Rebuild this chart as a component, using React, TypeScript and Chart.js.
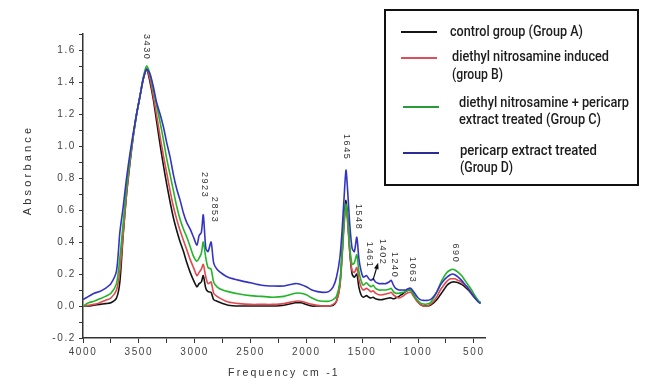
import React, { useEffect, useRef } from 'react';
import { Chart, registerables } from 'chart.js';

Chart.register(...registerables);

const frequencies = [
  4000, 3950, 3900, 3850, 3800, 3750, 3700, 3670, 3640, 3610, 3580, 3550, 3520, 3490, 3460, 3430,
  3400, 3370, 3340, 3310, 3280, 3250, 3220, 3190, 3160, 3130, 3100, 3070, 3040, 3010, 2980, 2960,
  2940, 2923, 2900, 2880, 2853, 2830, 2800, 2750, 2700, 2600, 2500, 2400, 2300, 2200, 2100, 2050,
  2000, 1950, 1900, 1850, 1800, 1760, 1730, 1700, 1680, 1660, 1645, 1630, 1610, 1590, 1570, 1548,
  1530, 1510, 1490, 1461, 1440, 1420, 1402, 1380, 1350, 1320, 1290, 1260, 1240, 1220, 1200, 1170,
  1140, 1110, 1085, 1063, 1040, 1010, 980, 950, 920, 890, 860, 830, 800, 770, 740, 710,
  690, 670, 640, 610, 580, 550, 520, 490, 460, 440,
];

const groupA = [
  0.0, 0.0, 0.005, 0.01, 0.015, 0.02, 0.05, 0.15, 0.45, 0.7, 0.89, 1.06, 1.2, 1.31, 1.42, 1.48,
  1.4, 1.29, 1.15, 1.01, 0.88, 0.76, 0.65, 0.55, 0.47, 0.4, 0.34, 0.27, 0.21, 0.16, 0.12, 0.14,
  0.15, 0.19, 0.11, 0.09, 0.085, 0.04, 0.03, 0.015, 0.005, 0.0, 0.0, 0.0, 0.0, 0.005, 0.02, 0.02,
  0.01, 0.0, 0.0, 0.0, 0.0, 0.005, 0.03, 0.13, 0.33, 0.56, 0.66, 0.55, 0.33, 0.2, 0.18, 0.2,
  0.12, 0.07, 0.055, 0.065, 0.055, 0.05, 0.055, 0.045, 0.04, 0.04, 0.045, 0.05, 0.05, 0.045, 0.05, 0.06,
  0.075, 0.09, 0.1, 0.1, 0.07, 0.035, 0.01, 0.0, 0.0, 0.005, 0.02, 0.04, 0.07, 0.1, 0.13, 0.145,
  0.15, 0.15, 0.145, 0.135, 0.12, 0.1, 0.075, 0.05, 0.03, 0.02,
];

const groupB = [
  0.0, 0.005, 0.01, 0.02, 0.035, 0.05, 0.1, 0.22, 0.45, 0.7, 0.9, 1.06, 1.2, 1.31, 1.42, 1.48,
  1.42, 1.31, 1.19, 1.06, 0.94, 0.83, 0.72, 0.62, 0.54, 0.47, 0.41, 0.35, 0.29, 0.24, 0.19, 0.21,
  0.23, 0.26, 0.18, 0.14, 0.15, 0.08, 0.06, 0.04, 0.025, 0.015, 0.01, 0.01, 0.01, 0.015, 0.03, 0.03,
  0.02, 0.01, 0.005, 0.0, 0.0, 0.01, 0.03, 0.12, 0.3, 0.52, 0.62, 0.52, 0.33, 0.22, 0.21, 0.24,
  0.17, 0.12, 0.1, 0.11, 0.1, 0.09, 0.095, 0.08, 0.07, 0.07, 0.075, 0.08, 0.085, 0.07, 0.06, 0.05,
  0.06, 0.075, 0.085, 0.085, 0.06, 0.03, 0.01, 0.0, 0.0, 0.01, 0.03, 0.06, 0.1, 0.13, 0.155, 0.17,
  0.17, 0.17, 0.16, 0.15, 0.13, 0.11, 0.08, 0.055, 0.03, 0.02,
];

const groupC = [
  0.0, 0.02, 0.03, 0.045, 0.06, 0.08, 0.14, 0.3, 0.52, 0.74, 0.92, 1.07, 1.2, 1.31, 1.43, 1.5,
  1.45, 1.35, 1.25, 1.15, 1.04, 0.92, 0.82, 0.72, 0.62, 0.54, 0.48, 0.43, 0.37, 0.31, 0.28, 0.3,
  0.33, 0.4, 0.3, 0.24, 0.23, 0.15, 0.12, 0.1, 0.09, 0.075, 0.065, 0.06, 0.055, 0.06, 0.08, 0.08,
  0.07, 0.05, 0.035, 0.03, 0.03, 0.04, 0.06, 0.15, 0.32, 0.55, 0.64, 0.55, 0.36, 0.26, 0.27, 0.32,
  0.22, 0.16, 0.13, 0.145, 0.13, 0.12, 0.13, 0.11, 0.1, 0.1, 0.1, 0.105, 0.11, 0.09, 0.08, 0.08,
  0.085, 0.09, 0.1, 0.1, 0.07, 0.04, 0.02, 0.012, 0.012, 0.02, 0.05, 0.09, 0.14, 0.18, 0.21, 0.225,
  0.23, 0.225, 0.21, 0.19, 0.16, 0.13, 0.1, 0.065, 0.035, 0.02,
];

const groupD = [
  0.04, 0.06, 0.08, 0.09, 0.11, 0.14, 0.22, 0.46, 0.62, 0.8, 0.95, 1.08, 1.2, 1.31, 1.42, 1.48,
  1.45, 1.37, 1.27, 1.2, 1.12, 1.02, 0.93, 0.82, 0.73, 0.66, 0.58, 0.52, 0.48, 0.43, 0.38, 0.44,
  0.46, 0.57, 0.36, 0.34, 0.4, 0.27, 0.23, 0.2, 0.18, 0.16, 0.145, 0.13, 0.125, 0.125, 0.14, 0.135,
  0.12, 0.1, 0.09, 0.085, 0.09, 0.12, 0.18, 0.3, 0.47, 0.7, 0.85, 0.72, 0.5, 0.36, 0.34, 0.43,
  0.3, 0.22, 0.18, 0.19, 0.17, 0.16, 0.17, 0.15, 0.14, 0.14, 0.14, 0.15, 0.16, 0.13, 0.11, 0.1,
  0.1, 0.1, 0.11, 0.11, 0.09, 0.06, 0.04, 0.035, 0.035, 0.04, 0.06, 0.09, 0.13, 0.16, 0.18, 0.195,
  0.2, 0.195, 0.18, 0.16, 0.135, 0.11, 0.08, 0.05, 0.025, 0.015,
];

const seriesNames = [
  ['control group (Group A)'],
  ['diethyl nitrosamine induced', '(group B)'],
  ['diethyl nitrosamine + pericarp', 'extract treated (Group C)'],
  ['pericarp extract treated', '(Group D)'],
];
const seriesValues = [groupA, groupB, groupC, groupD];
const seriesColors = ['#141414', '#e04a4e', '#22b52a', '#3434c4'];
const legendSampleColors = ['#141414', '#d9505a', '#2a9a3a', '#2c2c94'];

const peakLabels = ['3430', '2923', '2853', '1645', '1548', '1461', '1402', '1240', '1063', '690'];
const peakLabelFreq = [3430, 2910, 2823, 1637, 1529, 1431, 1314, 1211, 1050, 665];
const peakLabelBase = [1.535, 0.673, 0.517, 0.91, 0.473, 0.236, 0.254, 0.173, 0.142, 0.267];

// x-axis tick marks (every 250) and labels (every 500)
const xTickValues = [
  4000, 3750, 3500, 3250, 3000, 2750, 2500, 2250, 2000, 1750, 1500, 1250, 1000, 750, 500,
];
const xTickLabelValues = [4000, 3500, 3000, 2500, 2000, 1500, 1000, 500];

const yTickLabels = (v: number) => {
  const r = Math.round(v * 10);
  if (r % 2 !== 0) return '';
  return (r / 10).toFixed(1);
};
const xTickLabels = (v: number) => (xTickLabelValues.includes(Math.round(v)) ? String(Math.round(v)) : '');

const decor = {
  id: 'decor',
  beforeLayout(chart: any) {
    chart.ctx.letterSpacing = '1.6px';
  },
  beforeDraw(chart: any) {
    chart.ctx.letterSpacing = '1.6px';
  },
  afterDraw(chart: any) {
    const ctx = chart.ctx as CanvasRenderingContext2D;
    const xs = chart.scales.x;
    const ys = chart.scales.y;
    const area = chart.chartArea;
    ctx.save();

    // peak labels
    ctx.font = '9px "Liberation Sans"';
    (ctx as any).letterSpacing = '1.6px';
    ctx.fillStyle = '#333';
    peakLabels.forEach((t, i) => {
      const px = xs.getPixelForValue(peakLabelFreq[i]);
      const py = ys.getPixelForValue(peakLabelBase[i]);
      ctx.save();
      ctx.translate(px, py);
      ctx.rotate(Math.PI / 2);
      ctx.textAlign = 'right';
      ctx.textBaseline = 'middle';
      ctx.fillText(t, 0, 0);
      ctx.restore();
    });

    // small arrow toward 1402
    const ax0 = xs.getPixelForValue(1404);
    const ay0 = ys.getPixelForValue(0.16);
    const ax1 = xs.getPixelForValue(1362);
    const ay1 = ys.getPixelForValue(0.258);
    ctx.strokeStyle = '#111';
    ctx.fillStyle = '#111';
    ctx.lineWidth = 1.2;
    ctx.beginPath();
    ctx.moveTo(ax0, ay0);
    ctx.lineTo(ax1, ay1);
    ctx.stroke();
    const ang = Math.atan2(ay1 - ay0, ax1 - ax0);
    ctx.beginPath();
    ctx.moveTo(ax1 + Math.cos(ang) * 2, ay1 + Math.sin(ang) * 2);
    ctx.lineTo(ax1 - Math.cos(ang - 0.5) * 5, ay1 - Math.sin(ang - 0.5) * 5);
    ctx.lineTo(ax1 - Math.cos(ang + 0.5) * 5, ay1 - Math.sin(ang + 0.5) * 5);
    ctx.closePath();
    ctx.fill();

    // axis titles
    ctx.fillStyle = '#333';
    ctx.font = '11px "Liberation Sans"';
    (ctx as any).letterSpacing = '3.2px';
    ctx.save();
    ctx.translate(28, 170);
    ctx.rotate(-Math.PI / 2);
    ctx.textAlign = 'center';
    ctx.textBaseline = 'middle';
    ctx.fillText('Absorbance', 0, 0);
    ctx.restore();
    (ctx as any).letterSpacing = '2.2px';
    ctx.font = '10.5px "Liberation Sans"';
    ctx.textAlign = 'center';
    ctx.textBaseline = 'middle';
    ctx.fillText('Frequency cm -1', (area.left + area.right) / 2, 373);

    // legend box
    (ctx as any).letterSpacing = '0px';
    ctx.strokeStyle = '#111';
    ctx.lineWidth = 2;
    ctx.strokeRect(385, 10, 253, 175);
    const sampleY = [32, 58, 107, 153];
    const sampleX0 = [401, 401, 403, 403];
    const textX = [450, 452, 459, 460];
    const textY = [[32], [57, 75], [103, 120], [151, 168]];
    const textW = [[133], [157, 51], [170, 142], [137, 53]];
    seriesNames.forEach((lines, i) => {
      ctx.strokeStyle = legendSampleColors[i];
      ctx.lineWidth = 2;
      ctx.beginPath();
      ctx.moveTo(sampleX0[i], sampleY[i]);
      ctx.lineTo(sampleX0[i] + 36, sampleY[i]);
      ctx.stroke();
      ctx.fillStyle = '#1c1c1c';
      ctx.font = '500 14px Roboto';
      ctx.textAlign = 'left';
      ctx.textBaseline = 'middle';
      lines.forEach((ln, j) => {
        ctx.fillText(ln, textX[i], textY[i][j], textW[i][j]);
      });
    });
    ctx.restore();
  },
};

export default function App() {
  const ref = useRef<HTMLCanvasElement | null>(null);
  useEffect(() => {
    document.body.style.margin = '0';
    const canvas = ref.current;
    if (!canvas) return;
    const datasets = seriesValues.map((vals, i) => ({
      label: seriesNames[i].join(' '),
      data: frequencies.map((f, k) => ({ x: f, y: vals[k] })),
      borderColor: seriesColors[i],
      backgroundColor: seriesColors[i],
      borderWidth: 1.6,
      pointRadius: 0,
      tension: 0.25,
      fill: false,
      order: 4 - i,
    }));
    const chart = new Chart(canvas, {
      type: 'line',
      data: { datasets },
      plugins: [decor],
      options: {
        animation: false,
        responsive: false,
        layout: { padding: { top: 34, right: 170, left: 0, bottom: 0 } },
        plugins: { legend: { display: false }, tooltip: { enabled: false } },
        scales: {
          x: {
            type: 'linear',
            reverse: true,
            min: 400,
            max: 4000,
            afterFit: (s: any) => {
              s.height = 54;
            },
            afterBuildTicks: (s: any) => {
              s.ticks = xTickValues.map((v) => ({ value: v }));
            },
            ticks: {
              autoSkip: false,
              maxRotation: 0,
              padding: 3,
              color: '#444',
              font: { family: '"Liberation Sans"', size: 10 },
              callback: (v: any) => xTickLabels(Number(v)),
            },
            grid: { display: true, drawOnChartArea: false, drawTicks: true, tickLength: 5, color: '#333', lineWidth: 1 },
            border: { display: true, color: '#333', width: 1.5 },
          },
          y: {
            type: 'linear',
            min: -0.2,
            max: 1.7,
            afterFit: (s: any) => {
              s.width = 83;
            },
            ticks: {
              stepSize: 0.1,
              autoSkip: false,
              padding: 3,
              color: '#444',
              font: { family: '"Liberation Sans"', size: 10 },
              callback: (v: any) => yTickLabels(Number(v)),
            },
            grid: { display: true, drawOnChartArea: false, drawTicks: true, tickLength: 4, color: '#333', lineWidth: 1 },
            border: { display: true, color: '#333', width: 1.5 },
          },
        },
      } as any,
    });
    return () => chart.destroy();
  }, []);
  return (
    <div style={{ width: 655, height: 392, background: '#fff' }}>
      <canvas ref={ref} width={655} height={392} style={{ display: 'block' }} />
    </div>
  );
}
